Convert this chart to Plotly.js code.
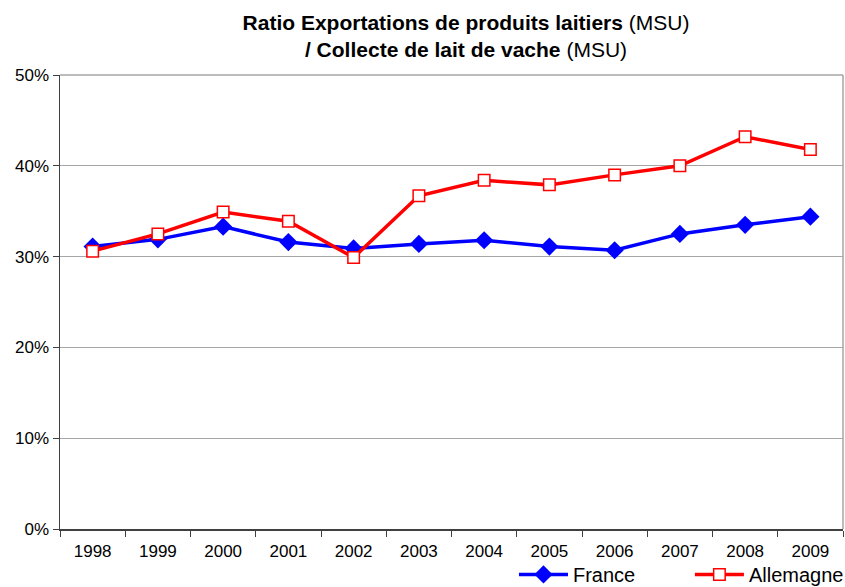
<!DOCTYPE html>
<html>
<head>
<meta charset="utf-8">
<script src="https://cdn.plot.ly/plotly-3.0.1.min.js"></script>
<style>html,body{margin:0;padding:0;background:#fff;}#chart{width:845px;height:587px;}</style>
</head>
<body>
<div id="chart"></div>
<script>
const years = ["1998","1999","2000","2001","2002","2003","2004","2005","2006","2007","2008","2009"];
const france = [31.1, 31.9, 33.3, 31.6, 30.9, 31.4, 31.8, 31.1, 30.7, 32.5, 33.5, 34.4];
const allemagne = [30.6, 32.5, 34.9, 33.9, 29.9, 36.7, 38.4, 37.9, 39.0, 40.0, 43.2, 41.8];
const yTicks = [0, 10, 20, 30, 40, 50];

const font = "Liberation Sans, Arial, sans-serif";

const traces = [
  {
    x: years, y: france, name: "France", type: "scatter", mode: "lines+markers",
    line: {color: "#0000ff", width: 3.5},
    marker: {symbol: "diamond", size: 14, color: "#0000ff"},
    legend: "legend"
  },
  {
    x: years, y: allemagne, name: "Allemagne", type: "scatter", mode: "lines+markers",
    line: {color: "#ff0000", width: 3.5},
    marker: {symbol: "square", size: 11.5, color: "#ffffff", line: {color: "#ff0000", width: 1.5}},
    legend: "legend2"
  }
];

const legendBase = {
  orientation: "h", xanchor: "left", y: -0.1, yanchor: "middle",
  font: {family: font, size: 20, color: "#000000"},
  itemwidth: 49, bgcolor: "rgba(0,0,0,0)"
};

const layout = {
  width: 845, height: 587,
  margin: {l: 60, r: 2, t: 75, b: 58, autoexpand: false},
  paper_bgcolor: "#ffffff", plot_bgcolor: "#ffffff",
  font: {family: font, size: 17, color: "#000000"},
  title: {
    text: "<b>Ratio Exportations de produits laitiers</b> (MSU)<br><b>/ Collecte de lait de vache</b> (MSU)",
    font: {family: font, size: 21, color: "#000000"},
    x: 0.5515, xanchor: "center", y: 0.9497, yanchor: "middle"
  },
  xaxis: {
    type: "category", categoryorder: "array", categoryarray: years,
    range: [-0.5, years.length - 0.5], autorange: false,
    showline: true, linecolor: "#404040", linewidth: 1.5,
    ticks: "outside", tickson: "boundaries", ticklen: 6, tickcolor: "#404040",
    ticklabelstandoff: 6,
    showgrid: false, zeroline: false, mirror: false,
    tickfont: {family: font, size: 17, color: "#000000"}
  },
  yaxis: {
    range: [0, 50], autorange: false, tickvals: yTicks, ticktext: yTicks.map(v => v + "%"),
    showline: true, linecolor: "#404040", linewidth: 1.5,
    ticks: "outside", ticklen: 6, tickcolor: "#404040",
    showgrid: true, gridcolor: "#a6a6a6", gridwidth: 1, zeroline: false,
    tickfont: {family: font, size: 17, color: "#000000"}
  },
  shapes: [
    {type: "line", xref: "paper", yref: "paper", x0: 0, x1: 1, y0: 1, y1: 1, line: {color: "#a6a6a6", width: 1.5}},
    {type: "line", xref: "paper", yref: "paper", x0: 1, x1: 1, y0: 0, y1: 1, line: {color: "#a6a6a6", width: 1.5}}
  ],
  showlegend: true,
  legend: Object.assign({}, legendBase, {x: 0.5798}),
  legend2: Object.assign({}, legendBase, {x: 0.8045})
};

Plotly.newPlot("chart", traces, layout, {displayModeBar: false, staticPlot: true});
</script>
</body>
</html>
